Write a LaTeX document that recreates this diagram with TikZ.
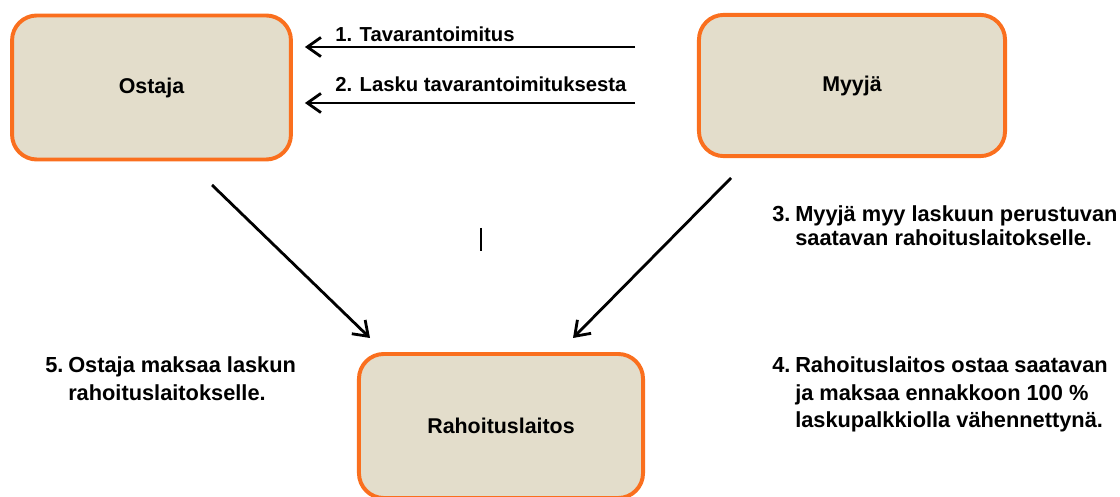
\documentclass[tikz,border=0pt]{standalone}
\usepackage{fontspec}
\setmainfont{Liberation Sans}
\usetikzlibrary{arrows.meta}
\definecolor{boxfill}{HTML}{E3DDCB}
\definecolor{boxline}{HTML}{FA6F1E}

\begin{document}
\begin{tikzpicture}[
  x = 0.025cm, y = -0.025cm,
  every node/.style = {font=\fontsize{14.4}{17}\selectfont\bfseries},
  party/.style = {draw=boxline, fill=boxfill, line width=2.8pt,
    rounded corners=0.62cm, minimum height=3.6cm,
    font=\fontsize{15.2}{18}\selectfont\bfseries},
  flow/.style = {line width=2pt, -{Straight Barb[length=3.4mm,width=4.8mm]}},
  note/.style = {inner sep=0pt, anchor=base west}
  ]
  \useasboundingbox (0,0) rectangle (1120,497);
  \clip (0,0) rectangle (1120,497);
  \node[party, minimum width=6.97cm] (ostaja) at (151.5,87.5) {Ostaja};
  \node[party, minimum width=7.65cm, minimum height=3.53cm] (myyja) at (852,85.5) {Myyjä};
  \node[party, minimum width=7.1cm] (rahoitus) at (501,426) {Rahoituslaitos};
  % delivery and invoice
  \coordinate (t1) at (635,47);
  \coordinate (t2) at (635,103);
  \draw[flow, shorten >=0.3cm] (t1) -- (ostaja.east |- t1);
  \draw[flow, shorten >=0.3cm] (t2) -- (ostaja.east |- t2);
  \node[note] (lbl1) at (335,41.5) {1. Tavarantoimitus};
  \node[note] (lbl2) at (335,91.5) {2. Lasku tavarantoimituksesta};
  % towards the financier
  \coordinate (d1) at (212,185);
  \coordinate (d1e) at (370,338);
  \coordinate (d2) at (731,178);
  \coordinate (d2e) at (573,338);
  \draw[flow] (d1) -- (d1e);
  \draw[flow] (d2) -- (d2e);
  \draw[line width=2pt] (481,228) -- (481,251);
  \node[note, font=\fontsize{15.5}{17}\selectfont\bfseries] (step3) at (772,222)
    {\begin{tabular}[t]{@{}l@{\hspace{0.12cm}}l@{}}
      3. & Myyjä myy laskuun perustuvan\\
         & saatavan rahoituslaitokselle.
    \end{tabular}};
  \node[note, font=\fontsize{15.5}{19.5}\selectfont\bfseries] (step4) at (772,373)
    {\begin{tabular}[t]{@{}l@{\hspace{0.12cm}}l@{}}
      4. & Rahoituslaitos ostaa saatavan\\
         & ja maksaa ennakkoon 100 \%\\
         & laskupalkkiolla vähennettynä.
    \end{tabular}};
  \node[note, font=\fontsize{15.5}{19.5}\selectfont\bfseries] (step5) at (45,373)
    {\begin{tabular}[t]{@{}l@{\hspace{0.12cm}}l@{}}
      5. & Ostaja maksaa laskun\\
         & rahoituslaitokselle.
    \end{tabular}};
\end{tikzpicture}
\end{document}
